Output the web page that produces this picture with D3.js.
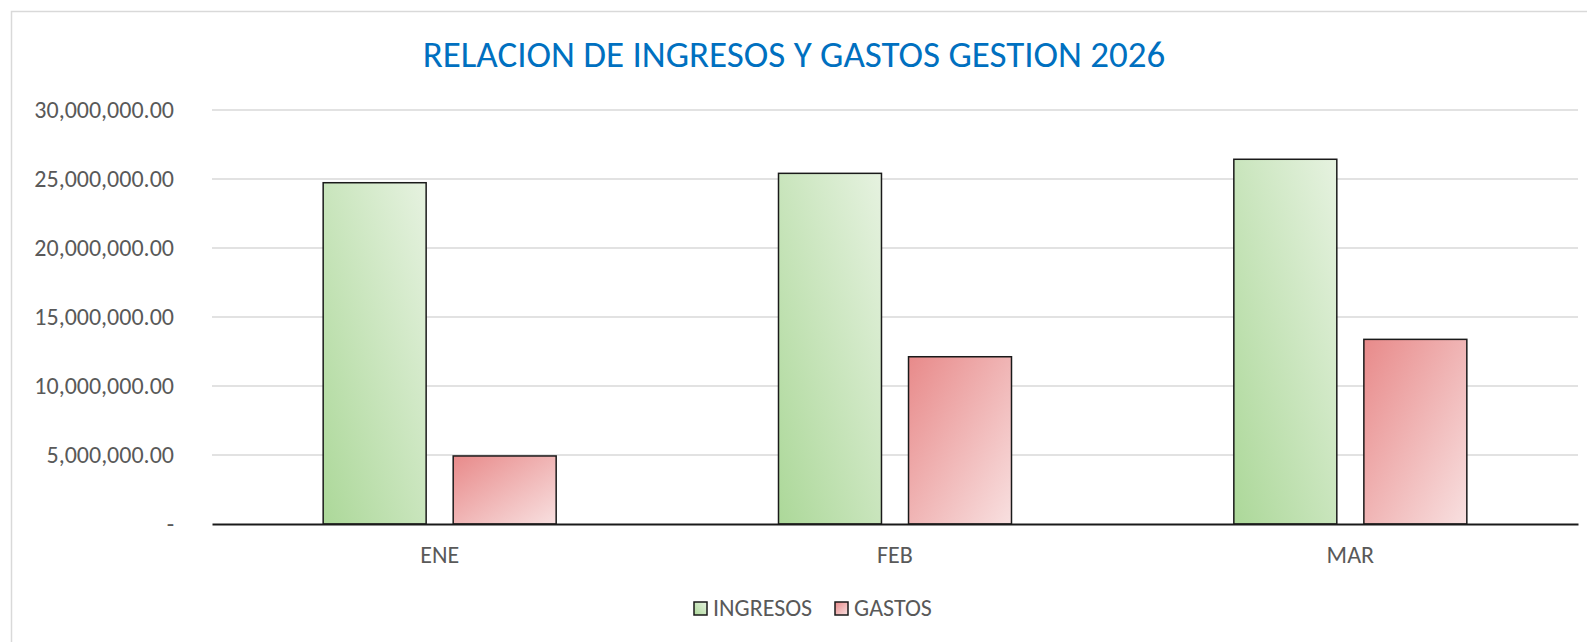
<!DOCTYPE html>
<html>
<head>
<meta charset="utf-8">
<script src="https://cdn.jsdelivr.net/npm/d3@7"></script>
<style>
  html, body { margin: 0; padding: 0; background: #fff; }
  svg { display: block; }
  text { font-family: Calibri, Carlito, "Noto Sans", sans-serif; }
</style>
</head>
<body>
<div id="chart"></div>
<script>
// data
const categories = ['ENE', 'FEB', 'MAR'];
const seriesNames = ['INGRESOS', 'GASTOS'];
const ingresos = [24730000, 25410000, 26430000];
const gastos = [4930000, 12120000, 13380000];
const yTicks = [0, 5000000, 10000000, 15000000, 20000000, 25000000, 30000000];
const title = 'RELACION DE INGRESOS Y GASTOS GESTION 2026';

const width = 1587, height = 642;
const margin = {left: 212, right: 9, top: 110, bottom: 118};

const svg = d3.select('#chart').append('svg')
  .attr('width', width)
  .attr('height', height);

// gradients like the Excel fills
const defs = svg.append('defs');
const gGreen = defs.append('linearGradient').attr('id', 'grad-ing')
  .attr('x1', 0).attr('y1', 1).attr('x2', 1).attr('y2', 0);
gGreen.append('stop').attr('offset', '0%').attr('stop-color', '#acd899');
gGreen.append('stop').attr('offset', '100%').attr('stop-color', '#e6f2e0');
const gRed = defs.append('linearGradient').attr('id', 'grad-gas')
  .attr('x1', 0).attr('y1', 0).attr('x2', 1).attr('y2', 1);
gRed.append('stop').attr('offset', '0%').attr('stop-color', '#e88a8a');
gRed.append('stop').attr('offset', '100%').attr('stop-color', '#f8e0e0');
const fills = {INGRESOS: 'url(#grad-ing)', GASTOS: 'url(#grad-gas)'};

// chart area border (runs off right/bottom of picture)
svg.append('rect')
  .attr('x', 11.5).attr('y', 11.5)
  .attr('width', width + 20).attr('height', height + 20)
  .attr('fill', 'none')
  .attr('stroke', '#d9d9d9')
  .attr('stroke-width', 1.5);

// title
svg.append('text')
  .attr('x', 794).attr('y', 67)
  .attr('text-anchor', 'middle')
  .attr('fill', '#0070c0')
  .style('font-size', '37px')
  .text(title);

// scales
const x0 = d3.scaleBand()
  .domain(categories)
  .range([margin.left, width - margin.right]);
const x1 = d3.scaleBand()
  .domain(seriesNames)
  .range([0, x0.bandwidth()])
  .paddingInner(0.208)
  .paddingOuter(0.855);
const y = d3.scaleLinear()
  .domain([0, 30000000])
  .range([height - margin.bottom, margin.top]);

// gridlines
svg.append('g')
  .selectAll('line')
  .data(yTicks.filter(d => d > 0))
  .enter().append('line')
    .attr('x1', margin.left).attr('x2', width - margin.right)
    .attr('y1', d => y(d)).attr('y2', d => y(d))
    .attr('stroke', '#d9d9d9')
    .attr('stroke-width', 1.5);

// y axis labels
const fmt = d3.format(',.2f');
const yAxis = d3.axisLeft(y)
  .tickValues(yTicks)
  .tickSize(0)
  .tickPadding(38)
  .tickFormat(d => d === 0 ? '-' : fmt(d));
const yG = svg.append('g')
  .attr('transform', `translate(${margin.left},0)`)
  .call(yAxis);
yG.select('.domain').remove();
yG.selectAll('text')
  .attr('fill', '#595959')
  .style('font-size', '24px')
  .style('font-family', 'Calibri, Carlito, "Noto Sans", sans-serif');

// bars
const rows = categories.map((c, i) => ({cat: c, INGRESOS: ingresos[i], GASTOS: gastos[i]}));
const groups = svg.append('g').selectAll('g')
  .data(rows)
  .enter().append('g')
    .attr('transform', d => `translate(${x0(d.cat)},0)`);
groups.selectAll('rect')
  .data(d => seriesNames.map(s => ({s, v: d[s]})))
  .enter().append('rect')
    .attr('x', d => x1(d.s))
    .attr('y', d => y(d.v))
    .attr('width', x1.bandwidth())
    .attr('height', d => y(0) - y(d.v))
    .attr('fill', d => fills[d.s])
    .attr('stroke', '#1a1a1a')
    .attr('stroke-width', 1.5);

// x axis
const xAxis = d3.axisBottom(x0).tickSize(0).tickPadding(22);
const xG = svg.append('g')
  .attr('transform', `translate(0,${y(0)})`)
  .call(xAxis);
xG.select('.domain')
  .attr('stroke', '#1a1a1a')
  .attr('stroke-width', 2);
xG.selectAll('text')
  .attr('fill', '#595959')
  .style('font-size', '24px')
  .style('font-family', 'Calibri, Carlito, "Noto Sans", sans-serif');

// legend
const legend = svg.append('g').attr('transform', 'translate(694,602)');
const legendX = [0, 141];
seriesNames.forEach((s, i) => {
  const g = legend.append('g').attr('transform', `translate(${legendX[i]},0)`);
  g.append('rect')
    .attr('width', 13).attr('height', 13)
    .attr('fill', fills[s])
    .attr('stroke', '#1a1a1a')
    .attr('stroke-width', 1.5);
  g.append('text')
    .attr('x', 19).attr('y', 14)
    .attr('fill', '#595959')
    .style('font-size', '24px')
    .text(s);
});
</script>
</body>
</html>
